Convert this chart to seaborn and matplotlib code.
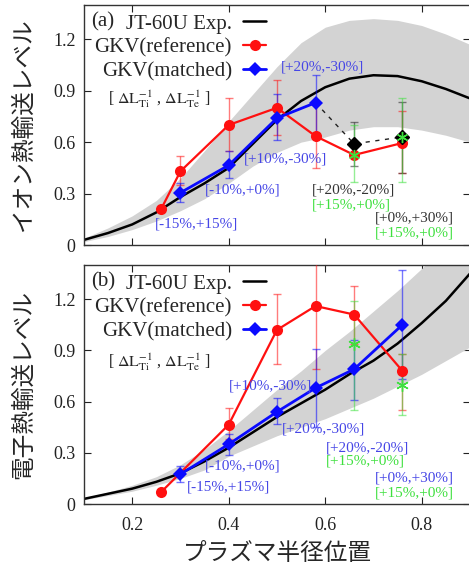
import matplotlib
matplotlib.use("Agg")
import matplotlib.pyplot as plt
import numpy as np
import seaborn as sns

# ---- data ----
x_exp = [0.10, 0.15, 0.20, 0.25, 0.30, 0.35, 0.40, 0.45, 0.50,
         0.55, 0.60, 0.65, 0.70, 0.75, 0.80, 0.85, 0.90]

# (a) ion heat transport
a_exp = [0.03, 0.07, 0.12, 0.19, 0.28, 0.36, 0.45, 0.59, 0.73,
         0.84, 0.92, 0.97, 0.99, 0.985, 0.955, 0.91, 0.855]
a_exp_hi = [0.04, 0.10, 0.17, 0.26, 0.39, 0.55, 0.72, 0.88, 1.04,
            1.18, 1.27, 1.31, 1.32, 1.31, 1.28, 1.23, 1.17]
a_exp_lo = [0.02, 0.05, 0.09, 0.14, 0.20, 0.27, 0.36, 0.46, 0.54,
            0.60, 0.63, 0.67, 0.69, 0.69, 0.67, 0.64, 0.60]

a_ref_x = [0.26, 0.30, 0.40, 0.50, 0.58, 0.66, 0.76]
a_ref = [0.21, 0.43, 0.70, 0.80, 0.635, 0.525, 0.595]
a_ref_lo = [np.nan, 0.35, 0.55, 0.64, 0.45, np.nan, 0.42]
a_ref_hi = [np.nan, 0.52, 0.86, 0.96, 0.82, np.nan, 0.78]

a_match_x = [0.30, 0.40, 0.50, 0.58]
a_match = [0.305, 0.465, 0.74, 0.83]
a_match_lo = [0.25, 0.39, 0.61, 0.64]
a_match_hi = [0.36, 0.55, 0.88, 0.99]

a_alt_x = [0.66, 0.76]
a_alt = [0.59, 0.63]
a_alt_lo = [0.46, 0.42]
a_alt_hi = [0.72, 0.835]

a_green_x = [0.66, 0.76]
a_green = [0.525, 0.63]
a_green_lo = [0.37, 0.37]
a_green_hi = [0.70, 0.86]

# (b) electron heat transport
b_exp = [0.03, 0.06, 0.09, 0.13, 0.18, 0.25, 0.33, 0.42, 0.51,
         0.59, 0.67, 0.76, 0.84, 0.94, 1.06, 1.19, 1.35]
b_exp_hi = [0.035, 0.07, 0.11, 0.16, 0.23, 0.32, 0.43, 0.55, 0.67,
            0.78, 0.90, 1.01, 1.13, 1.25, 1.38, 1.52, 1.66]
b_exp_lo = [0.025, 0.05, 0.075, 0.11, 0.15, 0.20, 0.28, 0.34, 0.40,
            0.45, 0.50, 0.56, 0.62, 0.69, 0.76, 0.84, 0.92]

b_ref_x = [0.26, 0.40, 0.50, 0.58, 0.66, 0.76]
b_ref = [0.07, 0.465, 1.02, 1.16, 1.11, 0.78]
b_ref_lo = [np.nan, 0.38, 0.82, 0.79, 0.94, 0.55]
b_ref_hi = [np.nan, 0.56, 1.23, 1.55, 1.28, 0.88]

b_match_x = [0.30, 0.40, 0.50, 0.58, 0.66, 0.76]
b_match = [0.175, 0.35, 0.54, 0.68, 0.79, 1.05]
b_match_lo = [0.13, 0.29, 0.47, 0.45, 0.61, 0.73]
b_match_hi = [0.22, 0.41, 0.62, 0.91, 0.96, 1.37]

b_green_x = [0.66, 0.76]
b_green = [0.94, 0.70]
b_green_lo = [0.55, 0.52]
b_green_hi = [1.19, 0.88]

y_ticks = [0, 0.3, 0.6, 0.9, 1.2]
y_tick_labels = ["0", "0.3", "0.6", "0.9", "1.2"]
x_ticks = [0.2, 0.4, 0.6, 0.8]
x_tick_labels = ["0.2", "0.4", "0.6", "0.8"]

RED = "#ff1010"
BLUE = "#0a0aff"
TXT_BLUE = "#4646e6"
GREEN = "#3ee03e"
GRAY = "#d3d3d3"

sns.set_theme(style="ticks")
plt.rcParams["font.family"] = ["Liberation Serif", "DejaVu Serif"]
plt.rcParams["mathtext.fontset"] = "stix"
JP = ["Noto Sans CJK JP", "DejaVu Sans"]
DL_TEXT = r"[ $\mathrm{\Delta L^{-1}_{Ti}}$ , $\mathrm{\Delta L^{-1}_{Te}}$ ]"


def err_bars(ax, x, y, lo, hi, color):
    x = np.array(x); y = np.array(y); lo = np.array(lo); hi = np.array(hi)
    ok = ~np.isnan(lo)
    ax.errorbar(x[ok], y[ok], yerr=[y[ok] - lo[ok], hi[ok] - y[ok]], fmt="none",
                ecolor=color, elinewidth=1.0, capsize=3, capthick=1.0,
                alpha=0.55, zorder=3)


def base_panel(ax, exp, lo, hi):
    ax.fill_between(x_exp, lo, hi, color=GRAY, lw=0, zorder=1)
    sns.lineplot(x=x_exp, y=exp, ax=ax, color="black", lw=1.8, zorder=2,
                 label="JT-60U Exp.")


def style_axes(ax):
    ax.set_xlim(0.1, 0.9)
    ax.set_ylim(0, 1.4)
    ax.set_yticks(y_ticks)
    ax.set_yticklabels(y_tick_labels)
    ax.set_xticks(x_ticks)
    ax.tick_params(direction="in", length=5, width=0.8, top=True, right=True,
                   labelsize=13, colors="#222222", pad=6)
    ax.tick_params(axis="x", pad=9)
    for s in ax.spines.values():
        s.set_linewidth(1.0)
        s.set_color("#333333")
    ax.set_xlabel("")
    ax.legend(loc="upper right", bbox_to_anchor=(0.472, 0.962), frameon=False,
              markerfirst=False, fontsize=15, handlelength=1.1,
              handletextpad=0.55, labelspacing=0.2, borderpad=0,
              borderaxespad=0)


def annotate(ax, items):
    for txt, x, y, c in items:
        ax.text(x, y, txt, color=c, fontsize=11, ha="left", va="center", zorder=6)


fig = plt.figure(figsize=(4.69, 5.73), dpi=100)
ax_a = fig.add_axes([0.179, 0.5724, 0.823, 0.419])
ax_b = fig.add_axes([0.179, 0.1204, 0.823, 0.417])

# ---- panel (a) ----
base_panel(ax_a, a_exp, a_exp_lo, a_exp_hi)
err_bars(ax_a, a_ref_x, a_ref, a_ref_lo, a_ref_hi, RED)
err_bars(ax_a, a_match_x, a_match, a_match_lo, a_match_hi, BLUE)
err_bars(ax_a, a_alt_x, a_alt, a_alt_lo, a_alt_hi, "#222222")
err_bars(ax_a, a_green_x, a_green, a_green_lo, a_green_hi, GREEN)
sns.lineplot(x=a_ref_x, y=a_ref, ax=ax_a, color=RED, lw=1.6, marker="o",
             markersize=8, markeredgewidth=0, zorder=4, label="GKV(reference)")
sns.lineplot(x=a_match_x, y=a_match, ax=ax_a, color=BLUE, lw=2.0, marker="D",
             markersize=7.5, markeredgewidth=0, zorder=5, label="GKV(matched)")
ax_a.plot([a_match_x[-1]] + a_alt_x, [a_match[-1]] + a_alt, color="#222222",
          lw=1.0, ls=(0, (3, 4)), zorder=4)
ax_a.plot(a_alt_x, a_alt, ls="none", marker="D", color="black", markersize=7,
          zorder=5)
ax_a.plot(a_green_x, a_green, ls="none", marker=(6, 2, 0), color=GREEN,
          markersize=8, markeredgewidth=1.0, zorder=6)
style_axes(ax_a)
ax_a.set_xticklabels([])
ax_a.text(0.018, 0.93, "(a)", transform=ax_a.transAxes, fontsize=15,
          ha="left", va="center")
ax_a.text(0.15, 0.85, DL_TEXT, fontsize=11.5, ha="left", va="center")
annotate(ax_a, [
    ("[+20%,-30%]", 0.508, 1.04, TXT_BLUE),
    ("[+10%,-30%]", 0.431, 0.50, TXT_BLUE),
    ("[-10%,+0%]", 0.350, 0.32, TXT_BLUE),
    ("[-15%,+15%]", 0.248, 0.12, TXT_BLUE),
    ("[+20%,-20%]", 0.573, 0.32, "#333333"),
    ("[+15%,+0%]", 0.573, 0.235, GREEN),
    ("[+0%,+30%]", 0.702, 0.16, "#333333"),
    ("[+15%,+0%]", 0.702, 0.07, GREEN),
])
ax_a.set_ylabel("イオン熱輸送レベル", family=JP, fontsize=17, labelpad=13)

# ---- panel (b) ----
base_panel(ax_b, b_exp, b_exp_lo, b_exp_hi)
err_bars(ax_b, b_ref_x, b_ref, b_ref_lo, b_ref_hi, RED)
err_bars(ax_b, b_match_x, b_match, b_match_lo, b_match_hi, BLUE)
err_bars(ax_b, b_green_x, b_green, b_green_lo, b_green_hi, GREEN)
sns.lineplot(x=b_ref_x, y=b_ref, ax=ax_b, color=RED, lw=1.6, marker="o",
             markersize=8, markeredgewidth=0, zorder=4, label="GKV(reference)")
sns.lineplot(x=b_match_x, y=b_match, ax=ax_b, color=BLUE, lw=2.0, marker="D",
             markersize=7.5, markeredgewidth=0, zorder=5, label="GKV(matched)")
ax_b.plot(b_green_x, b_green, ls="none", marker=(6, 2, 0), color=GREEN,
          markersize=9, markeredgewidth=1.0, zorder=6)
style_axes(ax_b)
ax_b.set_xticklabels(x_tick_labels)
ax_b.text(0.018, 0.93, "(b)", transform=ax_b.transAxes, fontsize=15,
          ha="left", va="center")
ax_b.text(0.15, 0.83, DL_TEXT, fontsize=11.5, ha="left", va="center")
annotate(ax_b, [
    ("[+10%,-30%]", 0.400, 0.69, TXT_BLUE),
    ("[-10%,+0%]", 0.350, 0.22, TXT_BLUE),
    ("[-15%,+15%]", 0.3125, 0.10, TXT_BLUE),
    ("[+20%,-30%]", 0.510, 0.44, TXT_BLUE),
    ("[+20%,-20%]", 0.602, 0.33, TXT_BLUE),
    ("[+15%,+0%]", 0.602, 0.25, GREEN),
    ("[+0%,+30%]", 0.702, 0.15, TXT_BLUE),
    ("[+15%,+0%]", 0.702, 0.065, GREEN),
])
ax_b.set_ylabel("電子熱輸送レベル", family=JP, fontsize=17, labelpad=13)
ax_b.set_xlabel("プラズマ半径位置", family=JP, fontsize=17, labelpad=6)

fig.savefig("out.png", dpi=100)
